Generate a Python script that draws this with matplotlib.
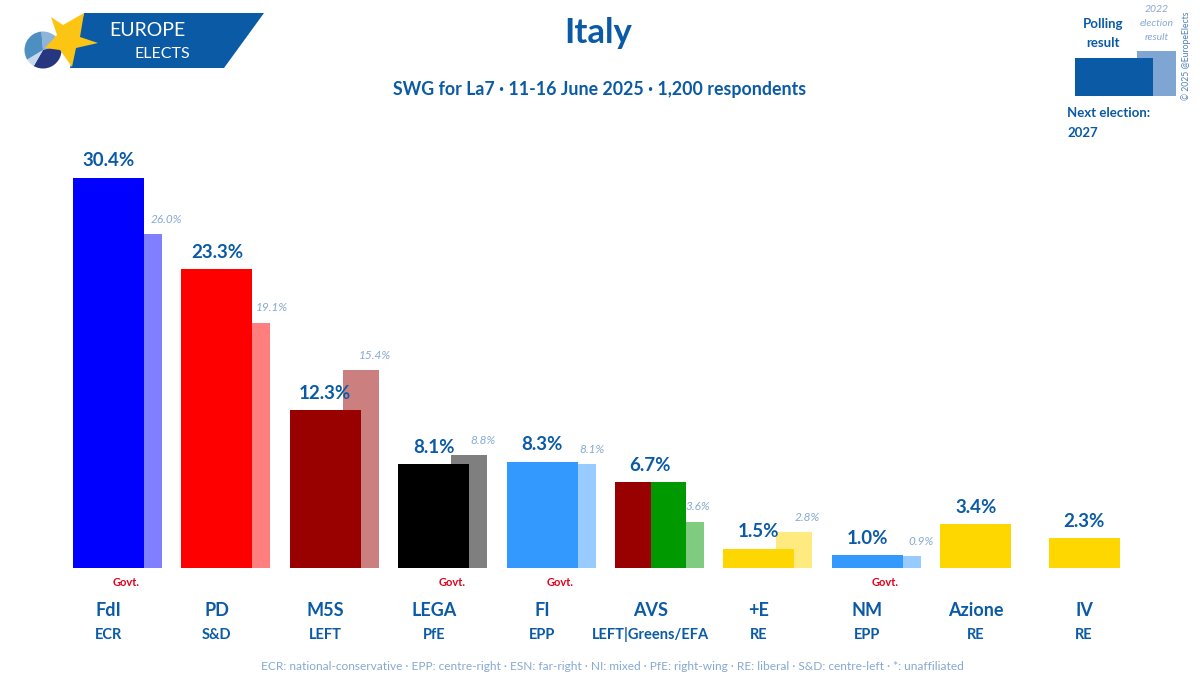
import matplotlib
matplotlib.use("Agg")
import matplotlib.pyplot as plt
from matplotlib.patches import Polygon, Wedge, Rectangle
from matplotlib.transforms import blended_transform_factory

plt.rcParams['font.family'] = ['Lato', 'DejaVu Sans']

parties = ['FdI', 'PD', 'M5S', 'LEGA', 'FI', 'AVS', '+E', 'NM', 'Azione', 'IV']
groups = ['ECR', 'S&D', 'LEFT', 'PfE', 'EPP', 'LEFT|Greens/EFA', 'RE', 'EPP', 'RE', 'RE']
polling = [30.4, 23.3, 12.3, 8.1, 8.3, 6.7, 1.5, 1.0, 3.4, 2.3]
election = [26.0, 19.1, 15.4, 8.8, 8.1, 3.6, 2.8, 0.9, None, None]
colors = ['#0000ff', '#ff0000', '#990000', '#000000', '#3399ff',
          ['#990000', '#009900'], '#ffd700', '#3399ff', '#ffd700', '#ffd700']
govt = ['FdI', 'LEGA', 'FI', 'NM']

BLUE = '#0a5aa5'
PALE = '#86a9d2'
W, H = 1200, 691
BASE = 568
PX_PER_PCT = 12.83
STEP = 108.4
FIRST = 108.5

fig = plt.figure(figsize=(12, 6.91), dpi=100)

# overlay in pixels for the logo, headers and key
pix = fig.add_axes([0, 0, 1, 1], zorder=1)
pix.set_xlim(0, W)
pix.set_ylim(H, 0)
pix.axis('off')
pix.patch.set_alpha(0)

# bars: x in party index, y in percent
ax = fig.add_axes([0, 0, 1, 1], zorder=0)
ax.set_xlim(-FIRST / STEP, (W - FIRST) / STEP)
ax.set_ylim(-(H - BASE) / PX_PER_PCT, BASE / PX_PER_PCT)
ax.axis('off')

main_w = 71 / STEP
prev_w = 36 / STEP
prev_off = 17.5 / STEP
trans = blended_transform_factory(ax.transData, pix.transData)

# x shift of the small italic label from the party centre, px
prev_label_dx = [58, 55, 50, 49, 50, 47, 48, 54, 0, 0]

for i, party in enumerate(parties):
    prev = election[i]
    col = colors[i]
    if prev is not None:
        base_col = col[1] if isinstance(col, list) else col
        ax.bar(i + prev_off + prev_w / 2, prev, prev_w, color=base_col, alpha=0.5, lw=0, zorder=2)
        ax.annotate(f'{prev:.1f}%', (i, prev), xytext=(prev_label_dx[i] * 0.72, 15 * 0.72),
                    textcoords='offset points', ha='center', va='center',
                    fontsize=8.5, style='italic', color=PALE)
    if isinstance(col, list):
        ax.bar(i - main_w / 4, polling[i], main_w / 2, color=col[0], lw=0, zorder=3)
        ax.bar(i + main_w / 4, polling[i], main_w / 2, color=col[1], lw=0, zorder=3)
    else:
        ax.bar(i, polling[i], main_w, color=col, lw=0, zorder=3)
    ax.annotate(f'{polling[i]:.1f}%', (i, polling[i]), xytext=(0, 17 * 0.72),
                textcoords='offset points', ha='center', va='center',
                fontsize=13.5, fontweight='bold', color=BLUE, zorder=5)
    ax.text(i, 610, party, transform=trans, ha='center', va='center',
            fontsize=13, fontweight='bold', color=BLUE)
    ax.text(i, 635, groups[i], transform=trans, ha='center', va='center',
            fontsize=10.5, fontweight='bold', color=BLUE)
    if party in govt:
        ax.text(i + 18 / STEP, 583, 'Govt.', transform=trans, ha='center', va='center',
                fontsize=8, fontweight='bold', color='#e2001a')

# headers
pix.text(598, 33, 'Italy', ha='center', va='center', fontsize=25, fontweight='bold', color=BLUE)
pix.text(600, 89, 'SWG for La7 · 11-16 June 2025 · 1,200 respondents', ha='center', va='center',
         fontsize=12.8, fontweight='bold', color=BLUE)
pix.text(612, 666, 'ECR: national-conservative · EPP: centre-right · ESN: far-right · NI: mixed · '
         'PfE: right-wing · RE: liberal · S&D: centre-left · *: unaffiliated',
         ha='center', va='center', fontsize=8.6, color=PALE)

# logo
pix.add_patch(Polygon([(84, 13), (264, 13), (224, 68), (70, 68)], color='#0a5aa5', lw=0, zorder=2))
pie_parts = [(-95, -15, '#8fb4dc'), (-15, 120, '#26367f'),
             (120, 149, '#c5d8ee'), (149, 265, '#4d8fc0')]
for a, b, c in pie_parts:
    pix.add_patch(Wedge((43, 50), 18.5, a, b, color=c, lw=0, zorder=3))
star = [(51, 17), (63, 25), (84, 13), (80, 37), (98, 43), (76, 48), (72, 67), (60, 50), (45, 48), (57, 35)]
pix.add_patch(Polygon(star, color='#fdc513', lw=0, zorder=4))
pix.text(109, 30, 'EUROPE', ha='left', va='center', fontsize=14, color='white', zorder=5)
pix.text(134, 54, 'ELECTS', ha='left', va='center', fontsize=11.5, color='white', zorder=5)

# key, top right
pix.add_patch(Rectangle((1137, 51), 39, 45, color='#7fa6d2', lw=0, zorder=2))
pix.add_patch(Rectangle((1075, 58), 78, 38, color='#0a5aa5', lw=0, zorder=3))
pix.text(1103, 24, 'Polling', ha='center', va='center', fontsize=9.5, fontweight='bold', color=BLUE)
pix.text(1103, 43, 'result', ha='center', va='center', fontsize=9.5, fontweight='bold', color=BLUE)
for y, s in zip([9, 23, 37], ['2022', 'election', 'result']):
    pix.text(1157, y, s, ha='center', va='center', fontsize=7.5, style='italic', color=PALE)
pix.text(1186, 56, '© 2025 @EuropeElects', rotation=90, ha='center', va='center', fontsize=6.2, color='#4f7fb5')
pix.text(1067, 113, 'Next election:', ha='left', va='center', fontsize=9.5, fontweight='bold', color=BLUE)
pix.text(1067, 133, '2027', ha='left', va='center', fontsize=9.5, fontweight='bold', color=BLUE)

fig.savefig('out.png', dpi=100, facecolor='white')
